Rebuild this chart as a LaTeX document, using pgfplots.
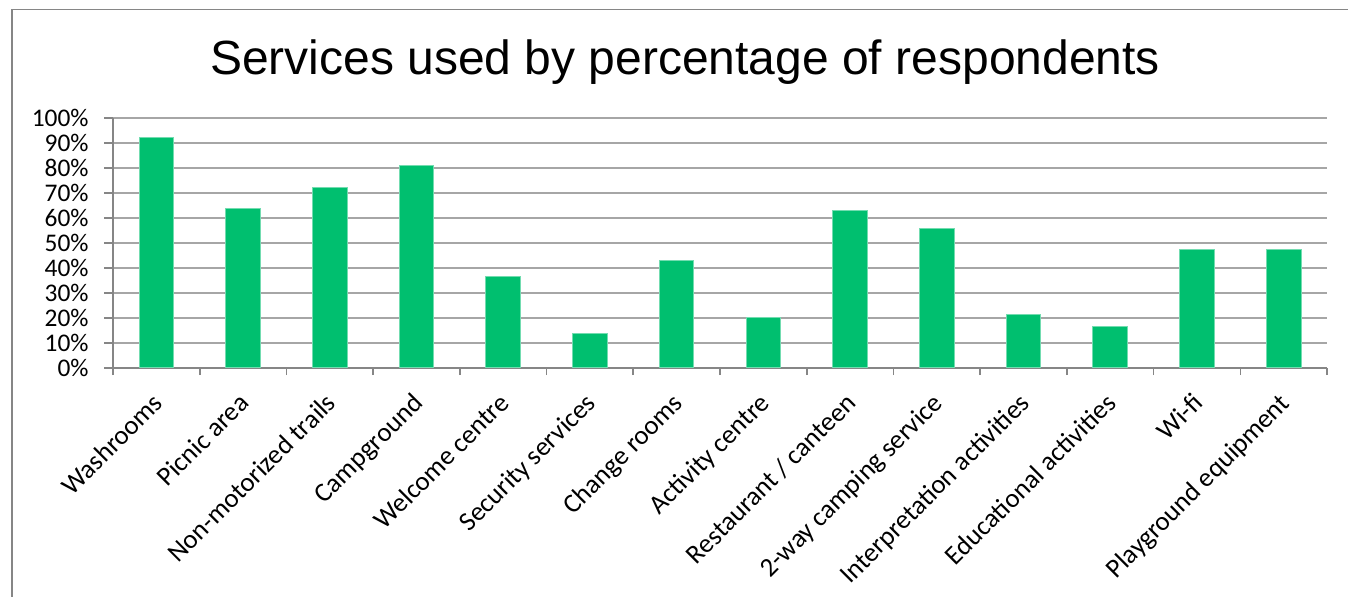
\documentclass[border=0pt]{standalone}
\usepackage{pgfplots}
\pgfplotsset{compat=1.18}
\usepackage{fontspec}
\setmainfont{Carlito}
\newfontfamily\titlefont{Liberation Sans}
\definecolor{barG}{HTML}{00BF6F}
\definecolor{gridG}{HTML}{A6A6A6}
\definecolor{axisG}{HTML}{868686}
\begin{document}
\begin{tikzpicture}
\begin{axis}[
  at={(56.5pt,-184pt)}, anchor=south west,
  scale only axis, width=607pt, height=125pt,
  xmin=-0.5, xmax=13.5, ymin=0, ymax=100,
  axis x line*=bottom, axis y line*=left,
  axis line style={axisG, line width=0.8pt},
  xtick={0,...,13},
  xticklabels={Washrooms, Picnic area, Non-motorized trails, Campground, Welcome centre, Security services, Change rooms, Activity centre, Restaurant / canteen, 2-way camping service, Interpretation activities, Educational activities, Wi-fi, Playground equipment},
  minor xtick={-0.5,0.5,...,13.5},
  major x tick style={draw=none},
  minor x tick style={axisG, line width=0.8pt},
  minor tick length=3.5pt,
  ytick={0,10,...,100},
  major tick length=4.5pt,
  major y tick style={axisG, line width=0.8pt},
  tick align=outside,
  ymajorgrids,
  grid style={gridG, line width=0.8pt},
  yticklabel={\pgfmathprintnumber{\tick}\%},
  /pgf/number format/assume math mode=true,
  yticklabel style={font=\fontsize{12.7}{13}\selectfont, inner sep=1pt, xshift=-6.5pt},
  xticklabel style={font=\fontsize{13.4}{14}\selectfont, rotate=45, anchor=north east, inner sep=1pt, xshift=-6pt, yshift=-2pt},
  ybar, bar width=0.4,
]
\addplot[fill=barG, draw=barG!55!white, line width=0.5pt] coordinates {
 (0,92.0) (1,63.7) (2,72.0) (3,81.1) (4,36.7) (5,13.7) (6,42.8)
 (7,20.3) (8,62.8) (9,55.6) (10,21.2) (11,16.7) (12,47.4) (13,47.4)
};
\end{axis}
\node[font=\titlefont\fontsize{24}{26}\selectfont, anchor=base] at (342.5pt,-37.5pt) {Services used by percentage of respondents};
\draw[axisG, line width=0.7pt] (6pt,-300pt) -- (6pt,-4.75pt) -- (680pt,-4.75pt);
\pgfresetboundingbox
\useasboundingbox (0,0) rectangle (674pt,-298.5pt);
\end{tikzpicture}
\end{document}
